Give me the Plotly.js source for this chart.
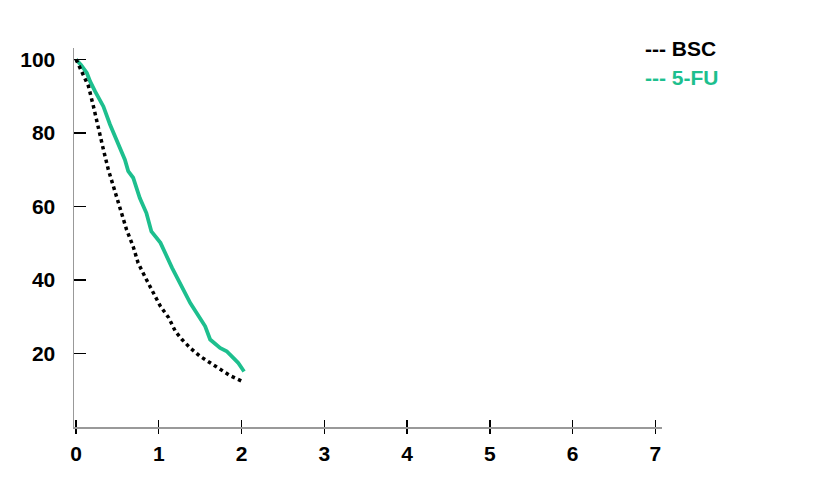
<!DOCTYPE html>
<html>
<head>
<meta charset="utf-8">
<script src="https://cdn.plot.ly/plotly-3.0.1.min.js"></script>
<style>html,body{margin:0;padding:0;background:#fff;}#chart{width:837px;height:480px;}</style>
</head>
<body>
<div id="chart"></div>
<script>
// Survival curves
var xBSC = [0, 0.07, 0.15, 0.21, 0.27, 0.33, 0.39, 0.45, 0.51, 0.56, 0.61, 0.69, 0.75, 0.85, 0.91, 1.02, 1.12, 1.20, 1.28, 1.38, 1.50, 1.62, 1.74, 1.86, 2.00];
var yBSC = [100, 96.8, 92.7, 87.2, 81.8, 75.5, 70.0, 65.5, 61.0, 56.9, 53.7, 49.1, 44.6, 40.1, 37.4, 32.8, 29.7, 26.0, 23.8, 21.5, 19.2, 17.4, 15.6, 14.0, 12.5];
var x5FU = [0, 0.06, 0.13, 0.17, 0.23, 0.33, 0.41, 0.51, 0.59, 0.63, 0.69, 0.77, 0.85, 0.91, 1.02, 1.16, 1.28, 1.38, 1.56, 1.62, 1.74, 1.82, 1.90, 1.96, 2.03];
var y5FU = [100, 98.5, 96.3, 94.0, 91.3, 87.2, 82.3, 77.3, 72.7, 69.6, 67.8, 62.3, 58.2, 53.2, 50.1, 43.3, 38.3, 33.7, 27.4, 23.8, 21.5, 20.6, 18.8, 17.4, 15.1];
var xTicks = [0, 1, 2, 3, 4, 5, 6, 7];
var yTicks = [20, 40, 60, 80, 100];
var seriesNames = ['BSC', '5-FU'];

var green = '#1dbf8e';
var fnt = {family: 'Liberation Sans, Arial, sans-serif', size: 21, color: '#000', weight: 700};

var traces = [
  {x: x5FU, y: y5FU, type: 'scatter', mode: 'lines', name: seriesNames[1],
   line: {color: green, width: 3.8, shape: 'linear'}, showlegend: false},
  {x: xBSC, y: yBSC, type: 'scatter', mode: 'lines', name: seriesNames[0],
   line: {color: '#000', width: 3.5, dash: 'dot'}, showlegend: false}
];

var layout = {
  width: 837, height: 480,
  margin: {l: 74, r: 175, t: 48, b: 53},
  paper_bgcolor: '#fff', plot_bgcolor: '#fff',
  showlegend: false,
  xaxis: {
    range: [-0.025, 7.08], tickvals: xTicks, ticktext: xTicks.map(String),
    showgrid: false, zeroline: false, showline: true, linecolor: '#999', linewidth: 1.5,
    ticks: 'outside', ticklen: 5, tickwidth: 1.3, tickcolor: '#000',
    tickfont: fnt, ticklabelstandoff: 2
  },
  xaxis2: {
    overlaying: 'x', matches: 'x', range: [-0.025, 7.08], tickvals: xTicks,
    showticklabels: false, showgrid: false, zeroline: false, showline: false,
    ticks: 'inside', ticklen: 7, tickwidth: 1.3, tickcolor: '#000', side: 'bottom'
  },
  yaxis: {
    range: [0, 103.1], tickvals: yTicks, ticktext: yTicks.map(String),
    showgrid: false, zeroline: false, showline: true, linecolor: '#999', linewidth: 1.5,
    ticks: 'inside', ticklen: 12, tickwidth: 1.3, tickcolor: '#000',
    tickfont: fnt, ticklabelstandoff: 13
  },
  annotations: [
    {xref: 'paper', yref: 'paper', x: 0.968, y: 1.0, xanchor: 'left', yanchor: 'middle',
     text: '--- ' + seriesNames[0], showarrow: false, font: fnt},
    {xref: 'paper', yref: 'paper', x: 0.968, y: 0.921, xanchor: 'left', yanchor: 'middle',
     text: '--- ' + seriesNames[1], showarrow: false,
     font: {family: fnt.family, size: 21, color: green, weight: 700}}
  ]
};

// invisible trace to activate the second x axis (tick marks inside)
traces.push({x: [0], y: [0], xaxis: 'x2', type: 'scatter', mode: 'markers',
  marker: {opacity: 0}, hoverinfo: 'skip', showlegend: false});

Plotly.newPlot('chart', traces, layout, {displayModeBar: false, staticPlot: true});
</script>
</body>
</html>
